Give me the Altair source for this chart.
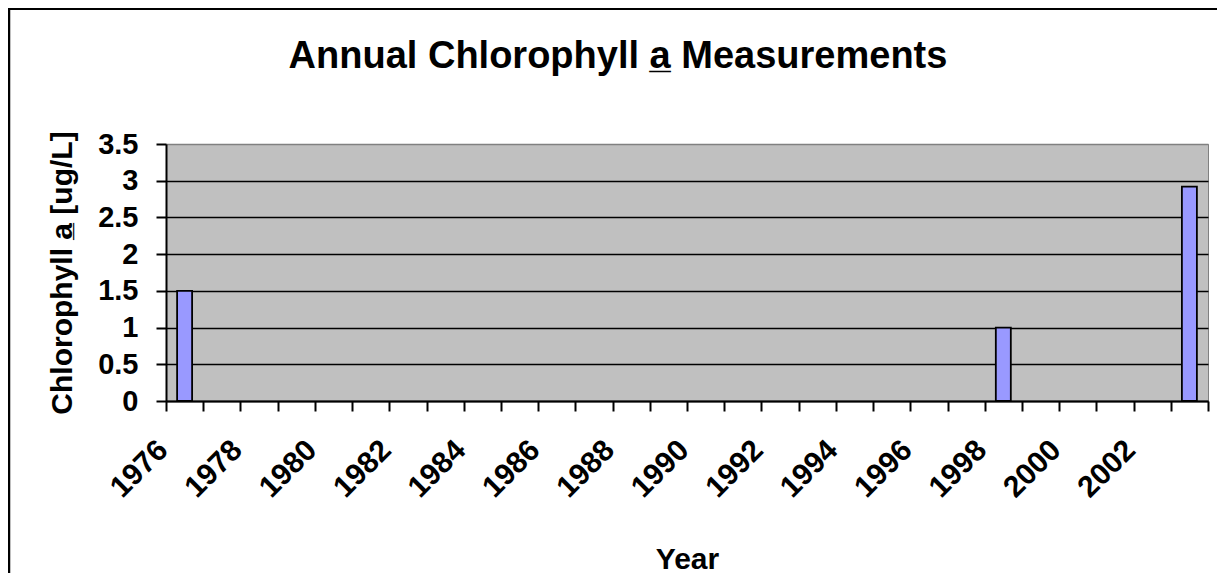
import altair as alt
import pandas as pd

# ---- data ----
YEARS = ["1976", "1977", "1978", "1979", "1980", "1981", "1982", "1983", "1984",
         "1985", "1986", "1987", "1988", "1989", "1990", "1991", "1992", "1993",
         "1994", "1995", "1996", "1997", "1998", "1999", "2000", "2001", "2002", "2003"]
CHLA = [1.5, None, None, None, None, None, None, None, None,
        None, None, None, None, None, None, None, None, None,
        None, None, None, None, 1.0, None, None, None, None, 2.92]
Y_TICKS = [0, 0.5, 1, 1.5, 2, 2.5, 3, 3.5]

TITLE = "Annual Chlorophyll a\u0332 Measurements"
Y_TITLE = "Chlorophyll a\u0332 [ug/L]"
X_TITLE = "Year"

df = pd.DataFrame({"Year": YEARS, "Chla": CHLA})

FONT = "Liberation Sans"
W, H = 1042, 257
PAD = {"left": 158, "top": 136, "right": 9, "bottom": 172}

bars = alt.Chart(df).mark_bar(
    size=15, fill="#9999FF", stroke="black", strokeWidth=1.8
).encode(
    x=alt.X("Year:O",
            scale=alt.Scale(type="band", domain=YEARS, paddingInner=0, paddingOuter=0),
            axis=alt.Axis(
                title=X_TITLE, titleFont=FONT, titleFontSize=30, titleFontWeight="bold",
                titleColor="black", titleX=521, titleY=167, titleAlign="center",
                titleBaseline="alphabetic",
                labelFont=FONT, labelFontSize=30, labelFontWeight="bold", labelColor="black",
                labelAngle=315, labelAlign="right", labelBaseline="middle",
                labelOffset=-22, labelPadding=34, labelOverlap=False, labelFlush=False,
                labelExpr="toNumber(datum.value) % 2 == 0 ? datum.value : ''",
                tickBand="extent", ticks=True, tickSize=10, tickWidth=2, tickColor="black",
                domainColor="black", domainWidth=2, grid=False,
            )),
    y=alt.Y("Chla:Q",
            scale=alt.Scale(domain=[0, 3.5], nice=False, zero=True),
            axis=alt.Axis(
                title=Y_TITLE, titleFont=FONT, titleFontSize=30, titleFontWeight="bold",
                titleColor="black", titleAngle=270, titleX=-104, titleY=128.5,
                titleAlign="center", titleBaseline="middle",
                values=Y_TICKS, format="~g",
                labelFont=FONT, labelFontSize=29, labelFontWeight="bold", labelColor="black",
                labelPadding=18,
                tickSize=10, tickWidth=2, tickColor="black",
                domainColor="black", domainWidth=2,
                grid=True, gridWidth=1.3,
                gridColor=alt.condition("datum.value >= 3.5", alt.value("#808080"), alt.value("black")),
            )),
)

# outer chart frame (top and left edges visible in the reference)
frame = alt.Data(values=[{"k": 1}])
top_edge = alt.Chart(frame).mark_rule(color="black", strokeWidth=2).encode(
    x=alt.value(-158), x2=alt.value(W + 9), y=alt.value(-135))
left_edge = alt.Chart(frame).mark_rule(color="black", strokeWidth=2.5).encode(
    x=alt.value(-157), y=alt.value(-136), y2=alt.value(H + 172))

chart = alt.layer(bars, top_edge, left_edge).properties(
    width=W, height=H,
    title=alt.TitleParams(TITLE, font=FONT, fontSize=38, fontWeight="bold", color="black",
                          anchor="middle", frame="group", dx=-69, offset=0, dy=99,
                          baseline="alphabetic"),
    autosize=alt.AutoSizeParams(type="none"),
    padding=PAD,
    background="white",
).configure_view(
    fill="#C0C0C0", stroke="#808080", strokeWidth=1
)

chart.save("out.html", embed_options={"renderer": "svg", "actions": False})
